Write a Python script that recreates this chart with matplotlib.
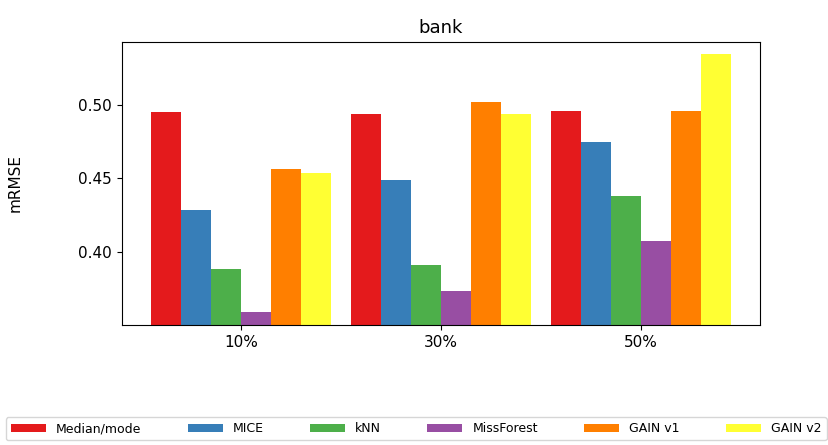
import numpy as np
import matplotlib
matplotlib.use('Agg')
import matplotlib.pyplot as plt

groups = ['10%', '30%', '50%']
methods = ['Median/mode', 'MICE', 'kNN', 'MissForest', 'GAIN v1', 'GAIN v2']
median_mode = [0.495, 0.494, 0.496]
mice = [0.428, 0.449, 0.475]
knn = [0.388, 0.3905, 0.438]
missforest = [0.359, 0.373, 0.407]
gain_v1 = [0.4565, 0.502, 0.496]
gain_v2 = [0.4535, 0.494, 0.5345]

series = [median_mode, mice, knn, missforest, gain_v1, gain_v2]
colors = ['#e41a1c', '#377eb8', '#4daf4a', '#984ea3', '#ff7f00', '#ffff33']

fig = plt.figure(figsize=(8.29, 4.45), dpi=100)
ax = fig.add_axes([0.147, 0.270, 0.770, 0.636])

x = np.arange(len(groups))
w = 0.15
for i, (vals, name) in enumerate(zip(series, methods)):
    ax.bar(x + (i - 2.5) * w, vals, w, color=colors[i], label=name)

ax.set_xticks(x)
ax.set_xticklabels(groups, fontsize=11)
ax.set_yticks([0.40, 0.45, 0.50])
ax.tick_params(axis='y', labelsize=11)
ax.set_ylim(0.350, 0.543)
ax.set_ylabel('mRMSE', fontsize=11, labelpad=40)
ax.set_title('bank', fontsize=13)

fig.legend(loc='upper left', bbox_to_anchor=(0.007, 0.062, 0.99, 0), mode='expand',
           ncol=6, fontsize=9, handlelength=2.8, borderaxespad=0)

plt.savefig('out.png')
